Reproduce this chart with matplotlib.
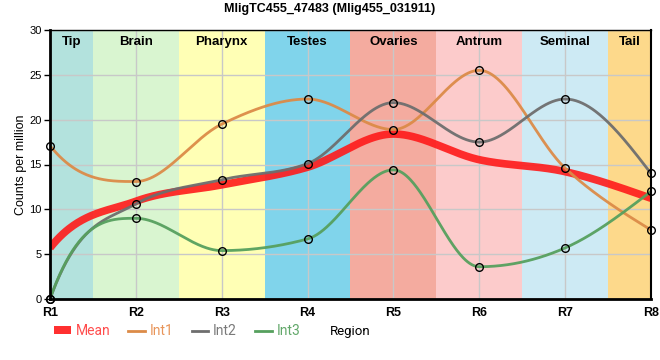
import numpy as np
import matplotlib
matplotlib.use("Agg")
import matplotlib.pyplot as plt
from matplotlib.lines import Line2D
from matplotlib.patches import Patch

plt.rcParams['font.family'] = ['Liberation Sans', 'DejaVu Sans']

title = "MligTC455_47483 (Mlig455_031911)"
regions = ["R1", "R2", "R3", "R4", "R5", "R6", "R7", "R8"]
band_labels = ["Tip", "Brain", "Pharynx", "Testes", "Ovaries", "Antrum", "Seminal", "Tail"]
band_colors = ["#b3e2dd", "#d9f5d0", "#ffffb5", "#80d4eb", "#f4ab9f", "#fccbcb", "#cdeaf4", "#fdd98b"]
int1 = [17.1, 13.1, 19.5, 22.3, 18.9, 25.5, 14.6, 7.7]
int2 = [0.0, 10.6, 13.3, 15.1, 21.9, 17.5, 22.3, 14.0]
int3 = [0.0, 9.0, 5.4, 6.7, 14.4, 3.6, 5.7, 12.0]
mean = list(np.mean([int1, int2, int3], axis=0))


def monotone_x(x, y, n=80):
    x = np.asarray(x, float); y = np.asarray(y, float)
    m = len(x)
    h = np.diff(x); s = np.diff(y) / h
    t = np.zeros(m)
    for i in range(1, m - 1):
        p = (s[i - 1] * h[i] + s[i] * h[i - 1]) / (h[i - 1] + h[i])
        t[i] = (np.sign(s[i - 1]) + np.sign(s[i])) * min(abs(s[i - 1]), abs(s[i]), 0.5 * abs(p))
    t[0] = 3 * s[0] - t[1]
    t[-1] = (3 * s[-1] - t[-2]) / 2
    xs, ys = [], []
    for i in range(m - 1):
        u = np.linspace(0, 1, n, endpoint=(i == m - 2))
        h00 = 2 * u**3 - 3 * u**2 + 1
        h10 = u**3 - 2 * u**2 + u
        h01 = -2 * u**3 + 3 * u**2
        h11 = u**3 - u**2
        xs.append(x[i] + u * h[i])
        ys.append(h00 * y[i] + h10 * h[i] * t[i] + h01 * y[i + 1] + h11 * h[i] * t[i + 1])
    return np.concatenate(xs), np.concatenate(ys)


fig = plt.figure(figsize=(6.6, 3.6), dpi=100)
ax = fig.add_axes([50 / 660, 1 - 299 / 360, 601 / 660, 269 / 360])

xpos = np.arange(len(regions))
nreg = len(regions)
for i, (lab, col) in enumerate(zip(band_labels, band_colors)):
    lo = max(i - 0.5, 0); hi = min(i + 0.5, nreg - 1)
    ax.axvspan(lo, hi, color=col, zorder=0, lw=0)
    ax.text((lo + hi) / 2, 29.3, lab, ha='center', va='top', fontsize=9.5, fontweight='bold',
            zorder=5)

ax.set_xlim(0, nreg - 1)
ax.set_ylim(0, 30)
ax.set_yticks(np.arange(0, 31, 5))
ax.set_xticks(xpos)
ax.set_xticklabels(regions, fontweight='bold', fontsize=9)
ax.tick_params(axis='y', labelsize=8, length=4, width=1, pad=2)
ax.tick_params(axis='x', length=0, pad=6)
ax.grid(True, color='#c8c8c8', lw=1, zorder=1)
for gl in ax.get_xgridlines() + ax.get_ygridlines():
    gl.set_zorder(1)

series = [
    ("Mean", mean, "#ff1a1a", 5.5, 0.9),
    ("Int1", int1, "#dc8b48", 2.0, 0.95),
    ("Int2", int2, "#6e6e6e", 2.0, 0.95),
    ("Int3", int3, "#56a05e", 2.0, 0.95),
]
for k, (name, vals, col, lw, a) in enumerate(series):
    xs, ys = monotone_x(xpos, vals)
    ax.plot(xs, ys, color=col, lw=lw, alpha=a, zorder=3 + k * 0.1, solid_capstyle='butt')
for name, vals, col, lw, a in series[1:]:
    ax.plot(xpos, vals, ls='none', marker='o', ms=5.5, mfc='none', mec='black', mew=1.0,
            zorder=4, clip_on=False)

for side in ['left', 'bottom']:
    ax.spines[side].set_linewidth(2)
ax.spines['right'].set_linewidth(1.5)
ax.spines['top'].set_linewidth(1)
for sp in ax.spines.values():
    sp.set_zorder(6)

ax.set_ylabel("Counts per million", fontsize=9, labelpad=2)
fig.text(0.5, 1 - 9 / 360, title, ha='center', va='center', fontsize=9, fontweight='bold')

handles = [
    Patch(facecolor="#ff3030", edgecolor='none', label="Mean"),
    Line2D([], [], color="#dc8b48", lw=2, label="Int1"),
    Line2D([], [], color="#6e6e6e", lw=2, label="Int2"),
    Line2D([], [], color="#56a05e", lw=2, label="Int3"),
]
leg = fig.legend(handles=handles, loc='center left', bbox_to_anchor=(54 / 660, 1 - 331 / 360),
                 ncol=4, frameon=False, handlelength=1.2, handleheight=0.5,
                 handletextpad=0.35, columnspacing=1.3, borderpad=0, borderaxespad=0,
                 prop={'family': 'Roboto', 'size': 10})
for txt, h in zip(leg.get_texts(), ["#ff4d4d", "#e8955a", "#7a7a7a", "#62a86a"]):
    txt.set_color(h)
fig.text(350 / 660, 1 - 331 / 360, "Region", ha='center', va='center', fontsize=9.5,
         family='Roboto')

fig.savefig("out.png", dpi=100)
